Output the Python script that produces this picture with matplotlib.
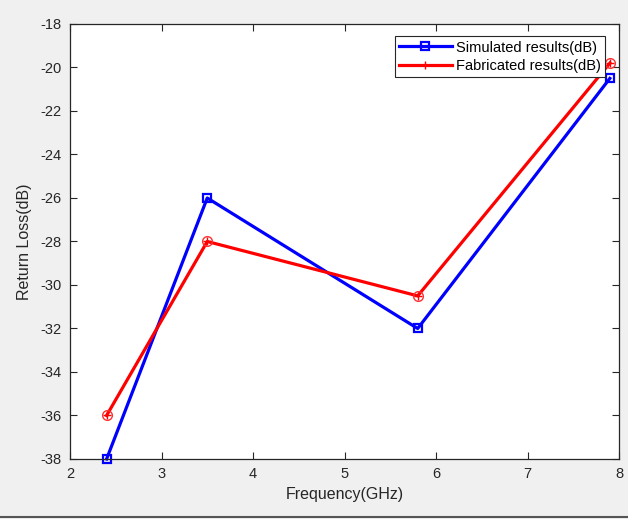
import matplotlib.pyplot as plt
from matplotlib.lines import Line2D

plt.rcParams['font.family'] = ['Liberation Sans', 'DejaVu Sans']
plt.rcParams['axes.unicode_minus'] = False

# Measured return loss at the design frequencies
freq_ghz = [2.4, 3.5, 5.8, 7.9]
simulated_db = [-38, -26, -32, -20.5]
fabricated_db = [-36, -28, -30.5, -19.8]

x_ticks = [2, 3, 4, 5, 6, 7, 8]
y_ticks = [-38, -36, -34, -32, -30, -28, -26, -24, -22, -20, -18]

fig = plt.figure(figsize=(6.28, 5.19), dpi=100, facecolor='#f0f0f0')
ax = fig.add_axes([70 / 628, 1 - 459 / 519, 549 / 628, 435 / 519])
ax.set_facecolor('white')

ax.plot(freq_ghz, simulated_db, color='#0000ff', linewidth=2.3, marker='s',
        markersize=6, markerfacecolor='none', markeredgewidth=1.6,
        clip_on=False, label='Simulated results(dB)')
ax.plot(freq_ghz, fabricated_db, color='#ff0000', linewidth=2.3, marker='+',
        markersize=6, markeredgewidth=1.0, clip_on=False,
        label='Fabricated results(dB)')
# dotted ring around the fabricated markers
ax.plot(freq_ghz, fabricated_db, linestyle='none', marker='o', markersize=7,
        markerfacecolor='none', markeredgecolor='#ff3030', markeredgewidth=1.0,
        clip_on=False)

ax.set_xlim(2, 8)
ax.set_ylim(-38, -18)
ax.set_xticks(x_ticks)
ax.set_yticks(y_ticks)
ax.tick_params(direction='in', length=5, width=0.8, top=True, right=True,
               labelsize=10.5, colors='#262626', pad=6)
for s in ax.spines.values():
    s.set_color('#262626')
    s.set_linewidth(0.9)

ax.set_xlabel('Frequency(GHz)', fontsize=11.5, color='#262626', labelpad=4)
ax.set_ylabel('Return Loss(dB)', fontsize=11.5, color='#262626', labelpad=6)

leg = ax.legend(loc='upper right', bbox_to_anchor=(0.975, 0.972), fontsize=10.5,
                fancybox=False, framealpha=1, edgecolor='#262626',
                handlelength=3.6, borderpad=0.3, labelspacing=0.3,
                handletextpad=0.3, borderaxespad=0.0)
leg.get_frame().set_linewidth(0.8)

# window border along the bottom edge
fig.add_artist(Line2D([0, 1], [2 / 519, 2 / 519], transform=fig.transFigure,
                      color='#555555', linewidth=1.5))

fig.savefig('out.png', dpi=100, facecolor=fig.get_facecolor())
